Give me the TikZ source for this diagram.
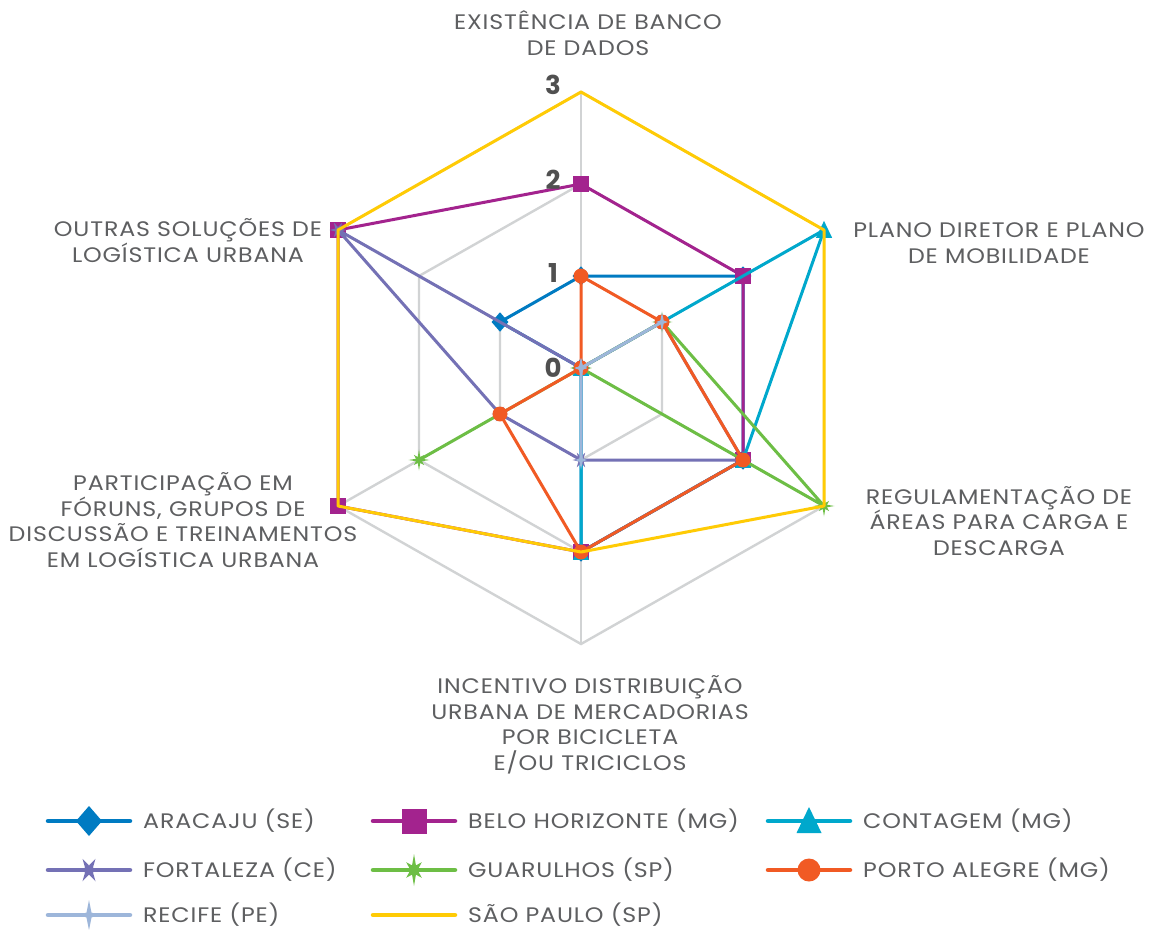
\documentclass[tikz,border=0pt]{standalone}
\usepackage{fontspec}
\setmainfont{Poppins}[FakeStretch=1.13,LetterSpace=4]
\newfontfamily\numfont{Poppins}
\usetikzlibrary{calc}
\definecolor{cAr}{HTML}{007BC2}
\definecolor{cBh}{HTML}{A3238E}
\definecolor{cCo}{HTML}{00A8CC}
\definecolor{cFo}{HTML}{7471B5}
\definecolor{cGu}{HTML}{6DBE45}
\definecolor{cPa}{HTML}{F15A24}
\definecolor{cRe}{HTML}{9DB6DA}
\definecolor{cSp}{HTML}{FFCB05}
\definecolor{cGrid}{HTML}{D1D3D4}
\definecolor{cTxt}{HTML}{5E5F61}
\definecolor{cNum}{HTML}{505050}
\newcommand\defseries[7]{%
  \coordinate (#10) at (581,{368-92*#2});
  \coordinate (#11) at ({581+81*#3},{368-46*#3});
  \coordinate (#12) at ({581+81*#4},{368+46*#4});
  \coordinate (#13) at (581,{368+92*#5});
  \coordinate (#14) at ({581-81*#6},{368+46*#6});
  \coordinate (#15) at ({581-81*#7},{368-46*#7});
}
\newcommand\drawseries[3]{%
  \draw[serline,#2] (#10)--(#11)--(#12)--(#13)--(#14)--(#15)--cycle;
  \foreach \k in {0,...,5} {\pic[scale=.65,color=#2] at (#1\k) {#3};}
}
\tikzset{
  grid/.style={draw=cGrid,line width=2.4pt},
  serline/.style={line width=3pt,line join=round},
  legline/.style={line width=4.5pt,line cap=round},
  lbl/.style={font=\fontsize{21}{25.5}\selectfont,text=cTxt,align=center,anchor=base,inner sep=0pt},
  leg/.style={font=\fontsize{21}{25.5}\selectfont,text=cTxt,anchor=base west,inner sep=0pt},
  num/.style={font=\fontsize{26}{30}\selectfont\numfont\bfseries,text=cNum,anchor=base,inner sep=0pt},
  pics/mkar/.style={code={\fill (0,-15)--(13,0)--(0,15)--(-13,0)--cycle;}},
  pics/mkbh/.style={code={\fill (-12.5,-12.5) rectangle (12.5,12.5);}},
  pics/mkco/.style={code={\fill (0,-14)--(12.5,12)--(-12.5,12)--cycle;}},
  pics/mkfo/.style={code={\fill (0:13) \foreach \q in {1,...,5} { -- (\q*60-30:4.5) -- (\q*60:13) } -- (330:4.5) -- cycle;}},
  pics/mkgu/.style={code={\fill (90:16) \foreach \q in {1,...,7} { -- (90+\q*45-22.5:5) -- (90+\q*45:{ifthenelse(isodd(\q),11,16)}) } -- (67.5:5) -- cycle;}},
  pics/mkpa/.style={code={\fill (0,0) circle (11.5);}},
  pics/mkre/.style={code={\fill (0,-15)--(2.5,-2.5)--(9,0)--(2.5,2.5)--(0,15)--(-2.5,2.5)--(-9,0)--(-2.5,-2.5)--cycle;}},
}
\begin{document}
\begin{tikzpicture}[x=1pt,y=-1pt]
\useasboundingbox (0,0) rectangle (1153,929);
\fill[white] (0,0) rectangle (1153,929);
% grid
\coordinate (C) at (581,368);
\defseries{g}{3}{3}{3}{3}{3}{3}
\foreach \v in {1,2,3}
  \draw[grid] (581,{368-92*\v}) -- ({581+81*\v},{368-46*\v}) -- ({581+81*\v},{368+46*\v}) -- (581,{368+92*\v}) -- ({581-81*\v},{368+46*\v}) -- ({581-81*\v},{368-46*\v}) -- cycle;
\foreach \k in {0,...,5} \draw[grid] (C) -- (g\k);
% data
\defseries{ar}{1}{2}{2}{2}{0}{1}
\defseries{bh}{2}{2}{2}{2}{3}{3}
\defseries{co}{0}{3}{2}{2}{0}{0}
\defseries{fo}{0}{1}{2}{1}{1}{3}
\defseries{gu}{0}{1}{3}{0}{2}{0}
\defseries{pa}{1}{1}{2}{2}{1}{0}
\defseries{re}{0}{1}{0}{1}{0}{0}
\defseries{sp}{3}{3}{3}{2}{3}{3}
\drawseries{ar}{cAr}{mkar}
\drawseries{bh}{cBh}{mkbh}
\drawseries{co}{cCo}{mkco}
\drawseries{fo}{cFo}{mkfo}
\drawseries{gu}{cGu}{mkgu}
\drawseries{pa}{cPa}{mkpa}
\drawseries{re}{cRe}{mkre}
\draw[serline,cSp] (sp0)--(sp1)--(sp2)--(sp3)--(sp4)--(sp5)--cycle;
% scale numbers
\node[num] (n3) at (553,94) {3};
\node[num] (n2) at (553,189) {2};
\node[num] (n1) at (553,282) {1};
\node[num] (n0) at (553,377) {0};
% axis labels
\node[lbl] (l0) at (588,55) {EXISTÊNCIA DE BANCO\\DE DADOS};
\node[lbl] (l1) at (999,263) {PLANO DIRETOR E PLANO\\DE MOBILIDADE};
\node[lbl] (l2) at (999,555) {REGULAMENTAÇÃO DE\\ÁREAS PARA CARGA E\\DESCARGA};
\node[lbl] (l3) at (590,770) {INCENTIVO DISTRIBUIÇÃO\\URBANA DE MERCADORIAS\\POR BICICLETA\\E/OU TRICICLOS};
\node[lbl] (l4) at (183,567) {PARTICIPAÇÃO EM\\FÓRUNS, GRUPOS DE\\DISCUSSÃO E TREINAMENTOS\\EM LOGÍSTICA URBANA};
\node[lbl] (l5) at (188,262) {OUTRAS SOLUÇÕES DE\\LOGÍSTICA URBANA};
% legend
\foreach \nm/\col/\mk/\x/\y/\txt in {
  ar/cAr/mkar/48/821/ARACAJU (SE),
  bh/cBh/mkbh/373/821/BELO HORIZONTE (MG),
  co/cCo/mkco/768/821/CONTAGEM (MG),
  fo/cFo/mkfo/48/870/FORTALEZA (CE),
  gu/cGu/mkgu/373/870/GUARULHOS (SP),
  pa/cPa/mkpa/768/870/PORTO ALEGRE (MG),
  re/cRe/mkre/48/915/RECIFE (PE)} {
  \coordinate (La\nm) at (\x,\y);
  \coordinate (Lb\nm) at (\x+82,\y);
  \coordinate (Lm\nm) at (\x+41,\y);
  \draw[legline,\col] (La\nm) -- (Lb\nm);
  \pic[color=\col] at (Lm\nm) {\mk};
  \node[leg] (Lt\nm) at (\x+95,\y+7.5) {\txt};
}
\coordinate (Lasp) at (373,915);
\coordinate (Lbsp) at (455,915);
\draw[legline,cSp] (Lasp) -- (Lbsp);
\node[leg] (Ltsp) at (468,922.5) {SÃO PAULO (SP)};
\end{tikzpicture}
\end{document}
